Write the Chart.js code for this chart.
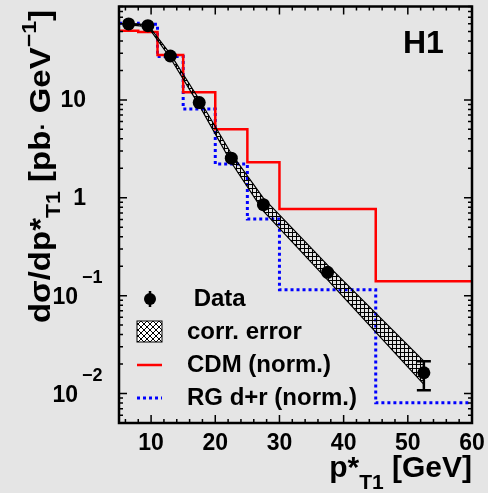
<!DOCTYPE html>
<html>
<head>
<meta charset="utf-8">
<script src="https://cdn.jsdelivr.net/npm/chart.js@4"></script>
<style>
  html, body { margin: 0; padding: 0; background: #e5e5e5; }
</style>
</head>
<body>
<canvas id="myChart" width="488" height="493"></canvas>
<script>
// histogram bins in pT* [GeV]
var binEdges = [5, 8, 11, 15, 20, 25, 30, 45, 60];
var cdmValues = [50.9, 49.4, 28.8, 12.0, 5.02, 2.31, 0.767, 0.14];
var rgValues = [60.7, 59.2, 27.7, 8.09, 2.21, 0.607, 0.115, 0.00803];

// measured cross section
var dataX = [6.5, 9.5, 13, 17.5, 22.5, 27.5, 37.5, 52.5];
var dataY = [59.7, 57.3, 28.1, 9.4, 2.54, 0.85, 0.173, 0.0163];
var errHigh = [61.5, 59.0, 29.0, 9.75, 2.66, 0.90, 0.185, 0.0214];
var errLow = [57.9, 55.6, 27.2, 9.05, 2.42, 0.80, 0.161, 0.0108];

// correlated error band
var bandUp = [61.0, 58.6, 29.4, 10.1, 2.82, 0.99, 0.205, 0.0214];
var bandDown = [58.4, 56.0, 26.8, 8.8, 2.29, 0.73, 0.145, 0.0124];

var xTicks = [10, 20, 30, 40, 50, 60];
var xTickLabels = ['10', '20', '30', '40', '50', '60'];
var yTicks = [0.01, 0.1, 1, 10];
var yTickBase = ['10', '10', '1', '10'];
var yTickExp = ['\u22122', '\u22121', '', ''];

var FONT = '"Liberation Sans", Arial, Helvetica, sans-serif';

// one point per bin edge, the last edge repeats the last bin
function histPoints(vals) {
  var pts = [];
  for (var i = 0; i < binEdges.length; i++) {
    pts.push({ x: binEdges[i], y: vals[Math.min(i, vals.length - 1)] });
  }
  return pts;
}
function xyPoints(ys) {
  return dataX.map(function (x, i) { return { x: x, y: ys[i] }; });
}

// hatch patterns
function gridPattern() {
  var c = document.createElement('canvas');
  c.width = 4; c.height = 4;
  var g = c.getContext('2d');
  g.fillStyle = '#000';
  g.fillRect(0, 0, 4, 1);
  g.fillRect(0, 0, 1, 4);
  return g.createPattern(c, 'repeat');
}
function diagPattern() {
  var c = document.createElement('canvas');
  c.width = 6; c.height = 6;
  var g = c.getContext('2d');
  g.fillStyle = '#fff';
  g.fillRect(0, 0, 6, 6);
  g.strokeStyle = '#000';
  g.lineWidth = 1;
  g.beginPath();
  g.moveTo(0, 0); g.lineTo(6, 6);
  g.moveTo(6, 0); g.lineTo(0, 6);
  g.stroke();
  return g.createPattern(c, 'repeat');
}

function setFont(ctx, size) {
  ctx.font = 'bold ' + size + 'px ' + FONT;
}
function richWidth(ctx, parts) {
  var w = 0;
  parts.forEach(function (p) { setFont(ctx, p.s); w += ctx.measureText(p.t).width; });
  return w;
}
function drawRich(ctx, parts, x, y) {
  ctx.textAlign = 'left';
  ctx.textBaseline = 'alphabetic';
  parts.forEach(function (p) {
    setFont(ctx, p.s);
    ctx.fillText(p.t, x, y + (p.dy || 0));
    x += ctx.measureText(p.t).width;
  });
}

// error bars sit below the markers
var errorBars = {
  id: 'errorBars',
  beforeDatasetDraw: function (chart, args) {
    if (args.index !== 0) return;
    var ctx = chart.ctx, x = chart.scales.x, y = chart.scales.y;
    ctx.save();
    ctx.strokeStyle = '#000';
    for (var i = 0; i < dataX.length; i++) {
      var px = x.getPixelForValue(dataX[i]);
      var py = y.getPixelForValue(dataY[i]);
      var top = y.getPixelForValue(errHigh[i]);
      var bot = y.getPixelForValue(errLow[i]);
      if (py - top < 8 && bot - py < 8) continue;
      ctx.lineWidth = 2.5;
      ctx.beginPath();
      ctx.moveTo(px, top); ctx.lineTo(px, bot);
      ctx.moveTo(px - 7, top); ctx.lineTo(px + 7, top);
      ctx.moveTo(px - 7, bot); ctx.lineTo(px + 7, bot);
      ctx.stroke();
    }
    ctx.restore();
  }
};

// frame, inward ticks, labels, titles and legend
var frame = {
  id: 'frame',
  afterDraw: function (chart) {
    var ctx = chart.ctx, a = chart.chartArea;
    var x = chart.scales.x, y = chart.scales.y;
    ctx.save();
    ctx.strokeStyle = '#000';
    ctx.fillStyle = '#000';
    ctx.lineWidth = 1.5;
    ctx.beginPath();
    var v, px, py, len;
    for (v = 6; v < 60; v += 2) {
      px = x.getPixelForValue(v);
      len = (v % 10 === 0) ? 8 : 4;
      ctx.moveTo(px, a.bottom); ctx.lineTo(px, a.bottom - len);
      ctx.moveTo(px, a.top); ctx.lineTo(px, a.top + len);
    }
    [0.001, 0.01, 0.1, 1, 10].forEach(function (d) {
      for (var k = 1; k <= 9; k++) {
        v = k * d;
        if (v < y.min || v > y.max) continue;
        py = y.getPixelForValue(v);
        len = (k === 1) ? 8 : 4;
        ctx.moveTo(a.left, py); ctx.lineTo(a.left + len, py);
        ctx.moveTo(a.right, py); ctx.lineTo(a.right - len, py);
      }
    });
    ctx.stroke();

    ctx.lineWidth = 2.5;
    ctx.strokeRect(a.left, a.top, a.right - a.left, a.bottom - a.top);

    // x tick labels
    setFont(ctx, 23);
    ctx.textAlign = 'center';
    ctx.textBaseline = 'middle';
    xTicks.forEach(function (t, i) {
      ctx.fillText(xTickLabels[i], x.getPixelForValue(t), a.bottom + 21);
    });

    // y tick labels
    yTicks.forEach(function (t, i) {
      py = y.getPixelForValue(t);
      setFont(ctx, 23);
      ctx.textBaseline = 'middle';
      if (yTickExp[i]) {
        ctx.textAlign = 'right';
        ctx.fillText(yTickBase[i], 78, py + 2);
        setFont(ctx, 18);
        ctx.textAlign = 'left';
        ctx.fillText(yTickExp[i], 82, py - 18);
      } else {
        ctx.textAlign = 'right';
        ctx.fillText(yTickBase[i], 86, py + 1);
      }
    });

    // x title
    var xt = [{ t: 'p*', s: 30 }, { t: 'T1', s: 21, dy: 12 }, { t: ' [GeV]', s: 30 }];
    drawRich(ctx, xt, a.right - richWidth(ctx, xt), 477);

    // y title, stretched a little along its length
    var yt = [
      { t: 'd\u03c3/dp*', s: 30 }, { t: 'T1', s: 21, dy: 10 },
      { t: ' [pb', s: 30 }, { t: '\u00b7', s: 22 }, { t: ' GeV', s: 30 },
      { t: '\u22121', s: 21, dy: -14 }, { t: ']', s: 30 }
    ];
    ctx.save();
    ctx.translate(50, 10);
    ctx.rotate(-Math.PI / 2);
    ctx.scale(1.1, 1);
    drawRich(ctx, yt, -richWidth(ctx, yt), 0);
    ctx.restore();

    // H1 label
    setFont(ctx, 32);
    ctx.textAlign = 'left';
    ctx.textBaseline = 'alphabetic';
    ctx.fillText('H1', 403, 53);

    // legend
    var lx = 187;
    setFont(ctx, 24);
    ctx.textBaseline = 'middle';
    ctx.fillText(' Data', lx, 299);
    ctx.fillText('corr. error', lx, 332);
    ctx.fillText('CDM (norm.)', lx, 365);
    ctx.fillText('RG d+r (norm.)', lx, 398);

    ctx.lineWidth = 2.5;
    ctx.beginPath();
    ctx.moveTo(150, 291); ctx.lineTo(150, 307);
    ctx.stroke();
    ctx.beginPath();
    ctx.arc(150, 299, 6, 0, Math.PI * 2);
    ctx.fill();

    ctx.fillStyle = diagPattern();
    ctx.fillRect(137, 321, 25, 21);
    ctx.lineWidth = 1;
    ctx.strokeRect(137, 321, 25, 21);

    ctx.strokeStyle = '#ff0000';
    ctx.lineWidth = 2.5;
    ctx.beginPath();
    ctx.moveTo(137, 365); ctx.lineTo(162, 365);
    ctx.stroke();

    ctx.strokeStyle = '#0000ff';
    ctx.lineWidth = 3;
    ctx.setLineDash([3, 3]);
    ctx.beginPath();
    ctx.moveTo(137, 398); ctx.lineTo(162, 398);
    ctx.stroke();
    ctx.restore();
  }
};

var ctx = document.getElementById('myChart');
var myChart = new Chart(ctx, {
  type: 'line',
  data: {
    datasets: [
      {
        label: 'Data',
        data: xyPoints(dataY),
        showLine: false,
        pointRadius: 6.5,
        pointBackgroundColor: '#000',
        pointBorderWidth: 0
      },
      {
        label: 'corr. error',
        data: xyPoints(bandUp),
        borderColor: '#000',
        borderWidth: 1.2,
        pointRadius: 0,
        backgroundColor: gridPattern(),
        fill: '+1'
      },
      {
        label: 'corr. error low',
        data: xyPoints(bandDown),
        borderColor: '#000',
        borderWidth: 1.2,
        pointRadius: 0,
        fill: false
      },
      {
        label: 'CDM (norm.)',
        data: histPoints(cdmValues),
        borderColor: '#ff0000',
        borderWidth: 2.5,
        stepped: 'before',
        pointRadius: 0,
        fill: false
      },
      {
        label: 'RG d+r (norm.)',
        data: histPoints(rgValues),
        borderColor: '#0000ff',
        borderWidth: 3,
        borderDash: [3, 3],
        stepped: 'before',
        pointRadius: 0,
        fill: false
      }
    ]
  },
  options: {
    responsive: false,
    animation: false,
    layout: { padding: { left: 119, right: 16, top: 6, bottom: 70 } },
    plugins: { legend: { display: false }, tooltip: { enabled: false } },
    scales: {
      x: { type: 'linear', min: 5, max: 60, display: false },
      y: { type: 'logarithmic', min: 0.005, max: 90, display: false }
    }
  },
  plugins: [errorBars, frame]
});
</script>
</body>
</html>
